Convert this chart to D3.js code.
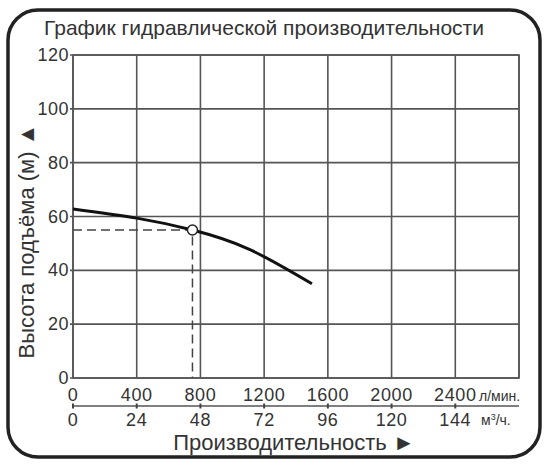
<!DOCTYPE html>
<html>
<head>
<meta charset="utf-8">
<script src="https://cdn.jsdelivr.net/npm/d3@7"></script>
<style>
  body { margin: 0; background: #fff; }
  svg text { font-family: "Liberation Sans", Arial, sans-serif; fill: #333; }
</style>
</head>
<body>
<div id="chart"></div>
<script>
// pump curve
var flowLpm = [0, 400, 750, 1100, 1500];
var headM = [62.8, 59.4, 55, 48, 35];
var dutyFlow = 750, dutyHead = 55;
var headTicks = [0, 20, 40, 60, 80, 100, 120];
var flowTicks = [0, 400, 800, 1200, 1600, 2000, 2400];
var m3hTicks = [0, 24, 48, 72, 96, 120, 144];
var gridX = [0, 400, 800, 1200, 1600, 2000, 2400, 2800];

var W = 555, H = 464;
var pLeft = 73, pRight = 519, pTop = 55, pBottom = 378;

var svg = d3.select("#chart").append("svg")
  .attr("width", W).attr("height", H);

// outer frame
svg.append("rect")
  .attr("x", 8).attr("y", 10).attr("width", 532).attr("height", 447)
  .attr("rx", 30).attr("ry", 30)
  .attr("fill", "#fff").attr("stroke", "#222").attr("stroke-width", 3.5);

svg.append("text")
  .attr("x", 264).attr("y", 35)
  .attr("text-anchor", "middle")
  .attr("font-size", 21)
  .text("График гидравлической производительности");

var x = d3.scaleLinear().domain([0, 2800]).range([pLeft, pRight]);
var x2 = d3.scaleLinear().domain([0, 168]).range([pLeft, pRight]);
var y = d3.scaleLinear().domain([0, 120]).range([pBottom, pTop]);

// grid
svg.append("g").selectAll("line")
  .data(gridX).join("line")
  .attr("x1", function(d) { return x(d); }).attr("x2", function(d) { return x(d); })
  .attr("y1", pTop).attr("y2", pBottom)
  .attr("stroke", "#555").attr("stroke-width", 1.6);

svg.append("g").selectAll("line")
  .data(headTicks).join("line")
  .attr("x1", pLeft - 3).attr("x2", pRight)
  .attr("y1", function(d) { return y(d); }).attr("y2", function(d) { return y(d); })
  .attr("stroke", "#555").attr("stroke-width", 1.6);

// y labels
svg.append("g").selectAll("text")
  .data(headTicks).join("text")
  .attr("x", pLeft - 4)
  .attr("y", function(d) { return y(d) + 6; })
  .attr("text-anchor", "end")
  .attr("font-size", 18)
  .attr("letter-spacing", 0.5)
  .text(function(d) { return d; });

svg.append("text")
  .attr("transform", "translate(34,241) rotate(-90)")
  .attr("text-anchor", "middle")
  .attr("font-size", 22)
  .text("Высота подъёма (м) ▲");

// x labels, l/min
svg.append("g").selectAll("text")
  .data(flowTicks).join("text")
  .attr("x", function(d) { return x(d); })
  .attr("y", 401)
  .attr("text-anchor", "middle")
  .attr("font-size", 18)
  .attr("letter-spacing", 0.6)
  .text(function(d) { return d; });

svg.append("text")
  .attr("x", 479).attr("y", 401)
  .attr("font-size", 14)
  .text("л/мин.");

// second axis, m3/h
svg.append("line")
  .attr("x1", x2(0)).attr("x2", pRight)
  .attr("y1", 406).attr("y2", 406)
  .attr("stroke", "#555").attr("stroke-width", 1.6);

svg.append("g").selectAll("line")
  .data(m3hTicks).join("line")
  .attr("x1", function(d) { return x2(d); }).attr("x2", function(d) { return x2(d); })
  .attr("y1", 403.5).attr("y2", 408.5)
  .attr("stroke", "#444").attr("stroke-width", 2);

svg.append("g").selectAll("text")
  .data(m3hTicks).join("text")
  .attr("x", function(d) { return x2(d); })
  .attr("y", 426)
  .attr("text-anchor", "middle")
  .attr("font-size", 18)
  .attr("letter-spacing", 0.6)
  .text(function(d) { return d; });

svg.append("text")
  .attr("x", 481).attr("y", 425)
  .attr("font-size", 14)
  .html("м<tspan font-size='9' dy='-5'>3</tspan><tspan dy='5'>/ч.</tspan>");

svg.append("text")
  .attr("x", 294).attr("y", 450)
  .attr("text-anchor", "middle")
  .attr("font-size", 22)
  .text("Производительность ►");

// plot border
svg.append("rect")
  .attr("x", pLeft).attr("y", pTop)
  .attr("width", pRight - pLeft).attr("height", pBottom - pTop)
  .attr("fill", "none").attr("stroke", "#555").attr("stroke-width", 1.6);

// duty point guides
svg.append("path")
  .attr("d", "M" + x(0) + "," + y(dutyHead) + "H" + x(dutyFlow) + "V" + y(0))
  .attr("fill", "none").attr("stroke", "#444").attr("stroke-width", 1.5)
  .attr("stroke-dasharray", "9,5");

var pts = flowLpm.map(function(f, i) { return [f, headM[i]]; });
svg.append("path")
  .datum(pts)
  .attr("fill", "none").attr("stroke", "#111").attr("stroke-width", 3)
  .attr("d", d3.line()
    .x(function(d) { return x(d[0]); })
    .y(function(d) { return y(d[1]); })
    .curve(d3.curveNatural));

svg.append("circle")
  .attr("cx", x(dutyFlow)).attr("cy", y(dutyHead)).attr("r", 5)
  .attr("fill", "#fff").attr("stroke", "#222").attr("stroke-width", 1.5);
</script>
</body>
</html>
